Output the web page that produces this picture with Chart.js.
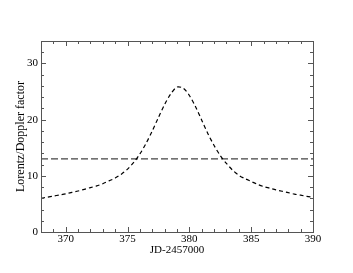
<!DOCTYPE html>
<html><head><meta charset="utf-8">
<script src="https://cdn.jsdelivr.net/npm/chart.js@4/dist/chart.umd.min.js"></script>
<style>html,body{margin:0;padding:0;background:#fff}#wrap{width:353px;height:273px}</style>
</head><body><div id="wrap"><canvas id="c" width="353" height="273"></canvas></div>
<script>
const jd = [368,368.5,369,369.5,370,370.5,371,371.5,372,372.5,373,373.5,374,374.5,375,375.5,376,376.5,377,377.5,378,378.5,379,379.5,380,380.5,381,381.5,382,382.5,383,383.5,384,384.5,385,385.5,386,386.5,387,387.5,388,388.5,389,389.5,390];
const doppler = [6.0,6.2,6.4,6.6,6.8,7.05,7.3,7.6,7.9,8.2,8.6,9.1,9.6,10.3,11.2,12.4,13.9,15.8,18.0,20.4,22.7,24.6,25.8,25.6,24.3,22.3,19.9,17.5,15.4,13.6,12.2,11.0,10.1,9.5,9.0,8.5,8.1,7.8,7.5,7.25,7.0,6.75,6.55,6.35,6.2];
const lorentzX = [368,390];
const lorentz = [13,13];
const xTicks = [370,375,380,385,390];
const yTicks = [0,10,20,30];
const xRange = [368,390];
const yRange = [0,34];

const F = 'Liberation Serif';
const frame = {
  id:'frame',
  afterDatasetsDraw(chart){
    const {ctx, chartArea:a, scales:{x,y}} = chart;
    ctx.save();
    ctx.strokeStyle = '#555'; ctx.lineWidth = 1;
    ctx.beginPath();
    for (let v = Math.ceil(xRange[0]); v <= xRange[1]; v++) {
      const px = Math.round(x.getPixelForValue(v)) + 0.5;
      const L = v % 5 === 0 ? 5 : 3;
      ctx.moveTo(px, a.bottom); ctx.lineTo(px, a.bottom - L);
      ctx.moveTo(px, a.top); ctx.lineTo(px, a.top + L);
    }
    for (let v = 0; v <= yRange[1]; v += 2) {
      const py = Math.round(y.getPixelForValue(v)) + 0.5;
      const L = v % 10 === 0 ? 5 : 3;
      ctx.moveTo(a.left, py); ctx.lineTo(a.left + L, py);
      ctx.moveTo(a.right, py); ctx.lineTo(a.right - L, py);
    }
    ctx.stroke();
    ctx.strokeRect(Math.round(a.left)+0.5, Math.round(a.top)+0.5, Math.round(a.right-a.left), Math.round(a.bottom-a.top));
    ctx.restore();
  }
};

new Chart(document.getElementById('c'), {
  type:'scatter',
  data:{datasets:[
    {data: jd.map((v,i)=>({x:v,y:doppler[i]})), showLine:true, borderColor:'#000', borderWidth:1.2, borderDash:[4,3], pointRadius:0, tension:0.3, fill:false},
    {data: lorentzX.map((v,i)=>({x:v,y:lorentz[i]})), showLine:true, borderColor:'#444', borderWidth:1.3, borderDash:[7,3], pointRadius:0, fill:false}
  ]},
  options:{
    responsive:false, animation:false,
    layout:{padding:{top:41,right:40,left:0,bottom:0}},
    plugins:{legend:{display:false},tooltip:{enabled:false}},
    scales:{
      x:{type:'linear', min:xRange[0], max:xRange[1],
        afterBuildTicks(s){ s.ticks = xTicks.map(v=>({value:v})); },
        afterFit(s){ s.height = 41; },
        grid:{display:false, drawTicks:false}, border:{display:false},
        ticks:{padding:1, color:'#000', font:{family:F,size:11}, maxRotation:0},
        title:{display:true, text:'JD-2457000', color:'#000', font:{family:F,size:11}, padding:{top:0,bottom:16}}
      },
      y:{type:'linear', min:yRange[0], max:yRange[1],
        afterBuildTicks(s){ s.ticks = yTicks.map(v=>({value:v})); },
        afterFit(s){ s.width = 41; },
        grid:{display:false, drawTicks:false}, border:{display:false},
        ticks:{padding:3, color:'#000', font:{family:F,size:11}},
        title:{display:true, text:'Lorentz/Doppler factor', color:'#000', font:{family:F,size:12}, padding:{top:14,bottom:0}}
      }
    }
  },
  plugins:[frame]
});
</script></body></html>
